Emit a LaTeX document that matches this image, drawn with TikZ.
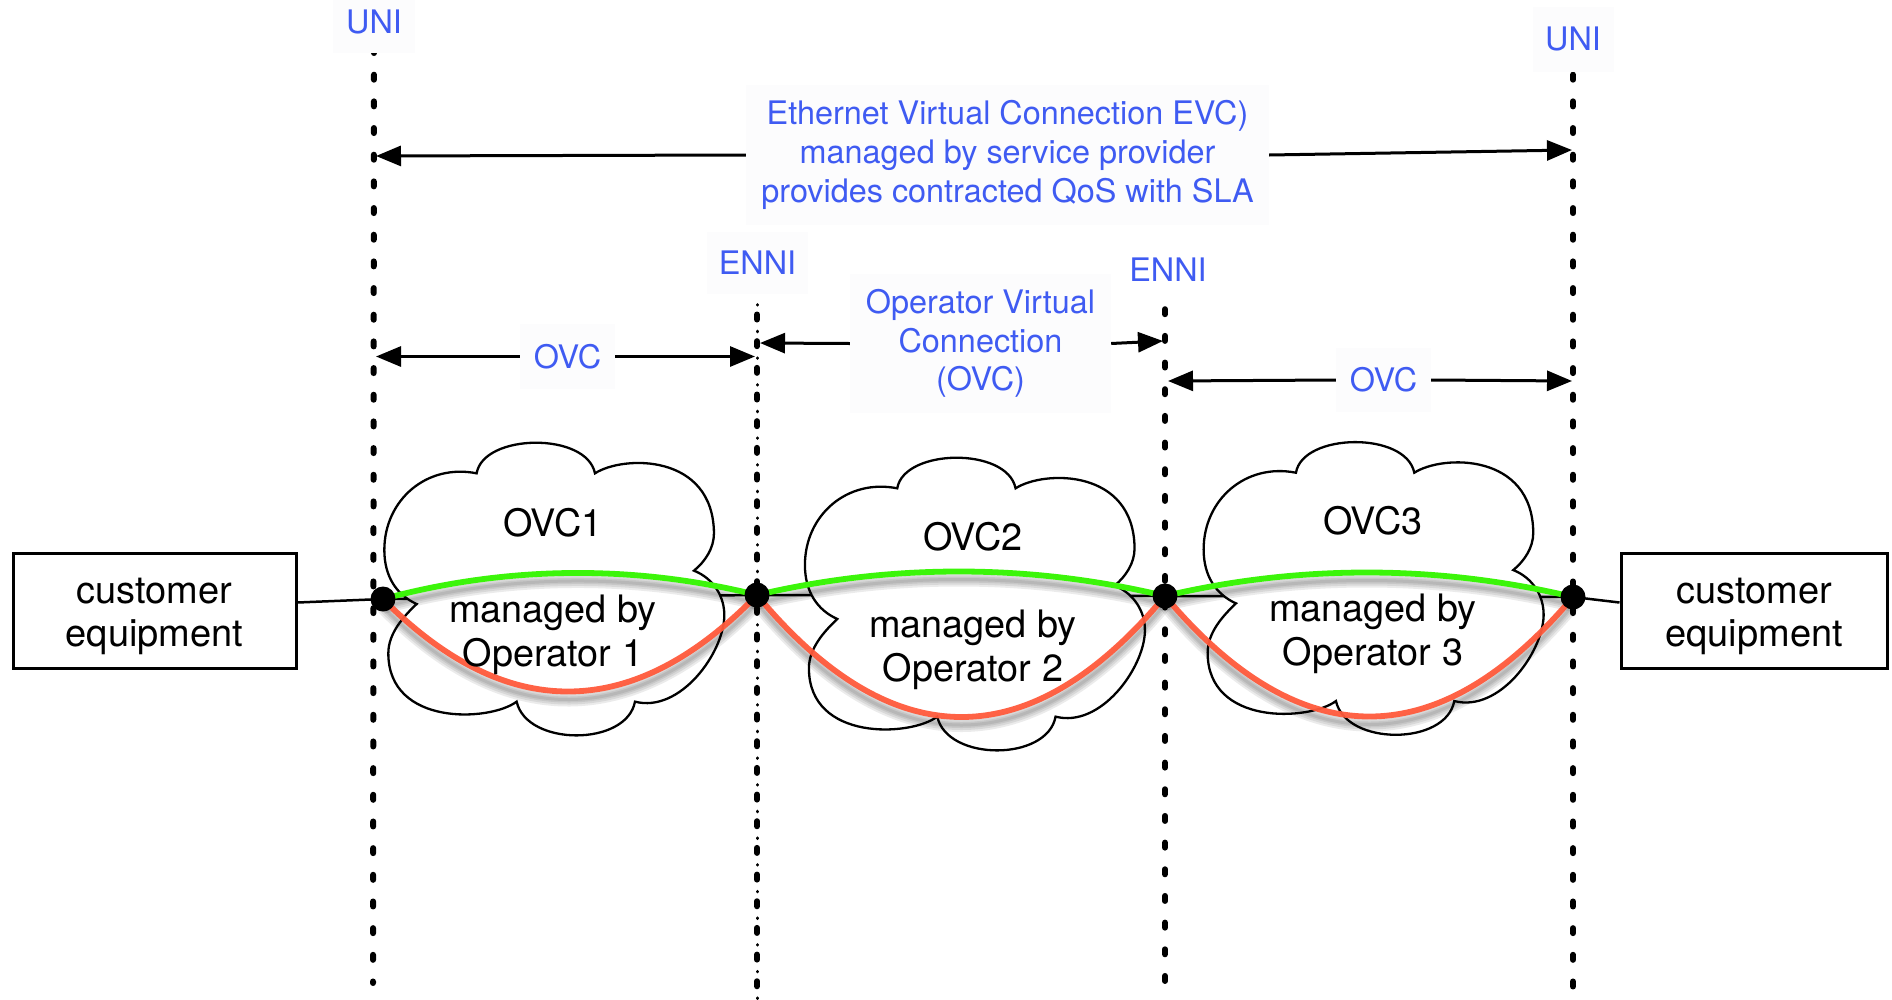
\documentclass[tikz,border=0pt]{standalone}
\usepackage{fontspec}
\setmainfont{TeX Gyre Heros}
\usepackage{tikz}
\usetikzlibrary{calc}
\usetikzlibrary{arrows.meta}
\pgfdeclarelayer{lines}
\pgfsetlayers{lines,main}
\definecolor{labelblue}{HTML}{3F5BF2}
\definecolor{labelback}{HTML}{FCFCFD}
\definecolor{arcgreen}{HTML}{3CF50A}
\definecolor{arcred}{HTML}{FF5A3C}
\tikzset{
	% Node styles: ports, blue labels, black cloud text and the end boxes
	port node/.style={circle,fill=black,inner sep=0pt,minimum size=25pt},
	blue label/.style={inner sep=0pt,align=center,text=labelblue,font=\fontsize{32.4}{38.6}\selectfont},
	back label/.style={blue label,fill=labelback},
	cloud label/.style={inner sep=0pt,align=center,font=\fontsize{37.8}{44.5}\selectfont},
	end box/.style={draw,line width=3pt,fill=white,align=center,minimum height=115pt,inner sep=0pt,font=\fontsize{38}{43.5}\selectfont},
	% Line styles: demarcation lines, span arrows, links
	uni line/.style={line width=6pt,line cap=round,dash pattern=on 5pt off 21.67pt},
	span arrow/.style={line width=3pt,-{Triangle[length=25pt,width=20pt]}},
	link/.style={line width=2.5pt},
	arc/.style={line width=5.8pt},
	arc shadow/.style={black,opacity=0.08,transform canvas={yshift=-8pt}}
}
\begin{document}
\begin{tikzpicture}[x=1pt,y=-1pt]
	% macro for one cloud, the two arguments place its crop origin
	\newcommand{\ovccloud}[2]{
		\begin{scope}[shift={(#1,#2)},x=0.3333pt,y=-0.3333pt]
			\draw[line width=2.3pt,fill=white]
				(410,160) .. controls (430,40) and (740,35) .. (765,160)
				.. controls (850,105) and (1120,100) .. (1122,340)
				.. controls (1122,385) and (1095,425) .. (1062,452)
				.. controls (1120,475) and (1155,530) .. (1153,590)
				.. controls (1150,700) and (1020,880) .. (885,845)
				.. controls (860,980) and (560,980) .. (530,845)
				.. controls (450,905) and (145,920) .. (145,700)
				.. controls (145,640) and (190,590) .. (230,552)
				.. controls (170,525) and (133,470) .. (133,390)
				.. controls (133,240) and (260,130) .. (410,160) -- cycle;
		\end{scope}
	}
	\useasboundingbox (0,0) rectangle (1892,999);
	
	% ports and end boxes
	\node(dot-1)[port node]at(383,599){};
	\node(dot-2)[port node]at(757,595){};
	\node(dot-3)[port node]at(1165,596){};
	\node(dot-4)[port node]at(1573,597){};
	\node(box-1)[end box,minimum width=283pt]at(154.5,610.5){\rule{0pt}{37pt}customer\\equipment};
	\node(box-2)[end box,minimum width=266pt]at(1754,610.5){\rule{0pt}{37pt}customer\\equipment};
	
	% labels of the demarcation lines
	\node(uni-1)[back label,minimum width=82pt,minimum height=62pt]at(374,22){UNI};
	\node(uni-2)[back label,minimum width=81pt,minimum height=65pt]at(1573,39){UNI};
	\node(enni-1)[back label,minimum width=101pt,minimum height=62pt]at(757.5,263){ENNI};
	\node(enni-2)[blue label]at(1168,270){ENNI};
	
	% labels of the spans
	\node(evc)[back label,minimum width=523pt,minimum height=140pt]at(1007.5,155){Ethernet Virtual Connection EVC)\\managed by service provider\\provides contracted QoS with SLA};
	\node(ovc-a)[back label,minimum width=95pt,minimum height=65pt]at(567.5,356.5){OVC};
	\node(ovc-b)[back label,minimum width=261pt,minimum height=139pt]at(980.5,343.5){Operator Virtual\\Connection\\(OVC)};
	\node(ovc-c)[back label,minimum width=95pt,minimum height=64pt]at(1383.5,380){OVC};
	
	% text in the clouds
	\foreach \n/\cx/\ovcy/\opy in {1/553/523/635,2/973/537/650,3/1373/521/634}{
		\node(ovc-\n)[cloud label]at(\cx,\ovcy){OVC\n};
		\node(op-\n)[cloud label]at(\cx,\opy){managed by\\Operator \n};
	}
	
	% free ends of the lines and arrows
	\coordinate(uni-1-end)at(373,983);
	\coordinate(uni-2-end)at(1573,989);
	\coordinate(enni-1-top)at(757,314.5);
	\coordinate(enni-1-fine)at(757,304.5);
	\coordinate(enni-1-end)at(757,999);
	\coordinate(enni-2-top)at(1165,309.2);
	\coordinate(enni-2-end)at(1165,983);
	\coordinate(evc-left)at(376,156);
	\coordinate(evc-right)at(1572,150);
	\coordinate(ovc-a-left)at(376,356.5);
	\coordinate(ovc-a-right)at(755,356.5);
	\coordinate(ovc-b-left)at(760,343);
	\coordinate(ovc-b-right)at(1163,341);
	\coordinate(ovc-c-left)at(1168,381);
	\coordinate(ovc-c-right)at(1572,381);
	
	\begin{pgfonlayer}{lines}
		\draw[uni line]([yshift=5.17pt]uni-1.south) -- (uni-1-end);
		\draw[uni line]([yshift=-3pt]uni-2.south) -- (uni-2-end);
		\draw[uni line](enni-1-top) -- (enni-1-end);
		\draw[line width=3pt,line cap=round,dash pattern=on 0.6pt off 26.07pt](enni-1-fine) -- (enni-1-end);
		\draw[uni line](enni-2-top) -- (enni-2-end);
		
		\draw[link]([yshift=8pt]box-1.east) -- (dot-1.center) -- (dot-2.center) -- (dot-3.center) -- (dot-4.center) -- ([yshift=8pt]box-2.west);
		
		\ovccloud{340}{420}
		\ovccloud{760.6}{435}
		\ovccloud{1159.3}{419.4}
		
		% shadows first, then the green and the red arc of each operator
		\foreach \a/\b/\sag in {1/2/126,2/3/162,3/4/160}{
			\foreach \w in {14,10,6,3}{
				\draw[arc shadow,line width=\w pt](dot-\a.center)
					.. controls ($(dot-\a.center)!.33!(dot-\b.center)+(0,-32)$) and ($(dot-\b.center)!.33!(dot-\a.center)+(0,-32)$) .. (dot-\b.center);
				\draw[arc shadow,line width=\w pt](dot-\a.center)
					.. controls ($(dot-\a.center)!.33!(dot-\b.center)+(0,\sag)$) and ($(dot-\b.center)!.33!(dot-\a.center)+(0,\sag)$) .. (dot-\b.center);
			}
			\draw[arc,arcgreen](dot-\a.center)
				.. controls ($(dot-\a.center)!.33!(dot-\b.center)+(0,-32)$) and ($(dot-\b.center)!.33!(dot-\a.center)+(0,-32)$) .. (dot-\b.center);
			\draw[arc,arcred,opacity=0.95](dot-\a.center)
				.. controls ($(dot-\a.center)!.33!(dot-\b.center)+(0,\sag)$) and ($(dot-\b.center)!.33!(dot-\a.center)+(0,\sag)$) .. (dot-\b.center);
		}
	\end{pgfonlayer}
	
	\draw[span arrow](evc.west) -- (evc-left);
	\draw[span arrow](evc.east) -- (evc-right);
	\draw[span arrow](ovc-a.west) -- (ovc-a-left);
	\draw[span arrow](ovc-a.east) -- (ovc-a-right);
	\draw[span arrow](ovc-b.west) -- (ovc-b-left);
	\draw[span arrow](ovc-b.east) -- (ovc-b-right);
	\draw[span arrow](ovc-c.west) -- (ovc-c-left);
	\draw[span arrow](ovc-c.east) -- (ovc-c-right);
\end{tikzpicture}
\end{document}
